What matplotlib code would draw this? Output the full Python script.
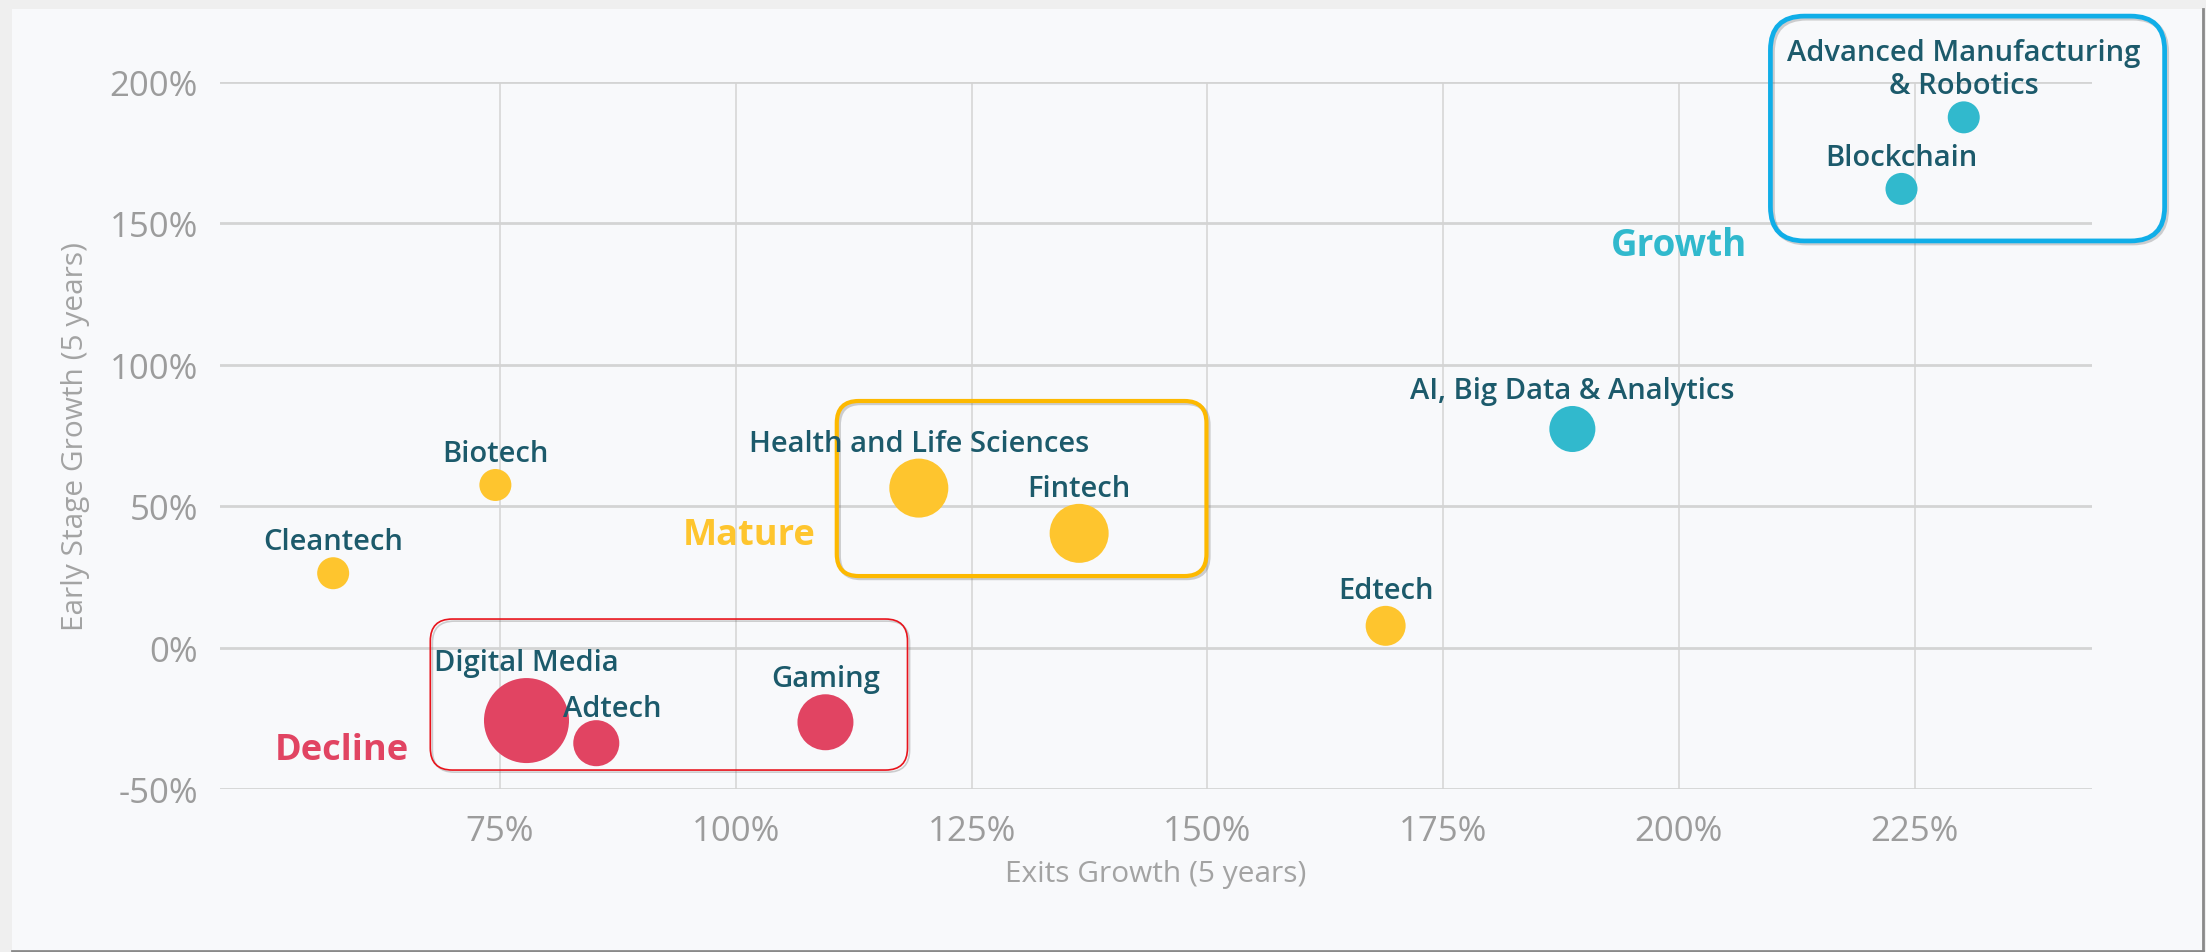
import matplotlib
matplotlib.use("Agg")
import matplotlib.pyplot as plt
import matplotlib.patheffects as pe
from matplotlib.patches import FancyBboxPatch, Rectangle
from matplotlib.lines import Line2D

# data
sectors = ['Cleantech', 'Biotech', 'Health and Life Sciences', 'Fintech', 'Edtech',
           'AI, Big Data & Analytics', 'Blockchain', 'Advanced Manufacturing\n& Robotics',
           'Digital Media', 'Adtech', 'Gaming']
exits_growth = [57.3, 74.5, 119.4, 136.4, 168.9, 188.7, 223.6, 230.2, 77.8, 85.2, 109.5]
early_growth = [26.3, 57.5, 56.4, 40.4, 7.7, 77.3, 162.2, 187.5, -25.8, -33.8, -26.4]
bubble_size = [1.0, 1.0, 3.4, 3.4, 1.56, 2.07, 1.0, 1.0, 7.06, 2.07, 3.06]
stage = ['Mature', 'Mature', 'Mature', 'Mature', 'Mature',
         'Growth', 'Growth', 'Growth', 'Decline', 'Decline', 'Decline']

x_ticks = [75, 100, 125, 150, 175, 200, 225]
y_ticks = [-50, 0, 50, 100, 150, 200]

stage_colors = {'Growth': '#31b9cd', 'Mature': '#fec52e', 'Decline': '#e14462'}
label_color = '#1c5a6b'
tick_color = '#9c9c9c'

W, H, DPI = 2206, 953, 100
fig = plt.figure(figsize=(W / DPI, H / DPI), dpi=DPI, facecolor='#efefef')

# card background
fig.patches.append(Rectangle((12 / W, 2 / H), 2190 / W, 941 / H, transform=fig.transFigure,
                             facecolor='#f8f9fb', edgecolor='none', zorder=-10))
fig.lines.append(Line2D([2203 / W, 2203 / W], [2 / H, 943 / H], transform=fig.transFigure,
                        color='#8a8a8a', lw=2, zorder=-9))
fig.lines.append(Line2D([12 / W, 2203 / W], [1.5 / H, 1.5 / H], transform=fig.transFigure,
                        color='#8a8a8a', lw=2, zorder=-9))

ax_l, ax_r, ax_t, ax_b = 220, 2092, 83, 790
ax = fig.add_axes([ax_l / W, 1 - ax_b / H, (ax_r - ax_l) / W, (ax_b - ax_t) / H])
ax.set_facecolor('#f8f9fb')
ax.set_xlim(45.3, 243.8)
ax.set_ylim(-50, 200)
for s in ax.spines.values():
    s.set_visible(False)

ax.set_xticks(x_ticks)
ax.set_yticks(y_ticks)
ax.set_xticklabels([f'{t}%' for t in x_ticks])
ax.set_yticklabels([f'{t}%' for t in y_ticks])
ax.tick_params(length=0, labelsize=25, labelcolor=tick_color, pad=16)
ax.tick_params(axis='x', pad=18)
for lab in ax.get_xticklabels() + ax.get_yticklabels():
    lab.set_fontfamily('Open Sans')

ax.grid(axis='x', color='#d9d9d9', lw=1.3)
ax.grid(axis='y', color='#d4d4d4', lw=2.0)
ax.set_axisbelow(True)

ax.set_xlabel('Exits Growth (5 years)', fontsize=21.5, color='#a3a3a3', family='Open Sans', labelpad=8)
ax.set_ylabel('Early Stage Growth (5 years)', fontsize=21.5, color='#a3a3a3', family='Open Sans', labelpad=14)

# bubbles
px_per_pt = DPI / 72
base_area = (2 * 16 / px_per_pt) ** 2
colors = [stage_colors[s] for s in stage]
areas = [b * base_area for b in bubble_size]
ax.scatter(exits_growth, early_growth, s=areas, c=colors, edgecolors='none', zorder=3)

# labels above bubbles
label_nudge = {'Adtech': (16, -4)}
for name, x, y, b in zip(sectors, exits_growth, early_growth, bubble_size):
    r_px = 16 * b ** 0.5
    dx, dy = label_nudge.get(name, (0, 0))
    ax.annotate(name, (x, y), xytext=(dx / px_per_pt, (r_px + 8 + dy) / px_per_pt),
                textcoords='offset points', ha='center', va='baseline',
                fontsize=21, fontweight='semibold', family='Open Sans',
                color=label_color, zorder=5, linespacing=1.2)

# stage labels
ax.text(200, 142.4, 'Growth', color=stage_colors['Growth'], fontsize=26.5, fontweight='bold',
        family='Open Sans', ha='center', va='center', zorder=5)
ax.text(101.4, 39.8, 'Mature', color=stage_colors['Mature'], fontsize=26, fontweight='bold',
        family='Open Sans', ha='center', va='center', zorder=5)
ax.text(58.2, -36.2, 'Decline', color=stage_colors['Decline'], fontsize=26, fontweight='bold',
        family='Open Sans', ha='center', va='center', zorder=5)

# highlight boxes (annotation frames)
x_unit_px = (ax_r - ax_l) / (243.8 - 45.3)
y_unit_px = (ax_b - ax_t) / 250
aspect = x_unit_px / y_unit_px
boxes = [((209.7, 143.8), 251.5 - 209.7, 223.3 - 143.8, '#10aee8', 3.4, 34),
         ((110.7, 25.3), 149.9 - 110.7, 87.2 - 25.3, '#fdb900', 3.0, 22),
         ((67.6, -43.3), 118.2 - 67.6, 10.1 + 43.3, '#e8141c', 1.2, 22)]
for (x0, y0), w, h, col, lw, rad in boxes:
    patch = FancyBboxPatch((x0, y0), w, h,
                           boxstyle=f'round,pad=0,rounding_size={rad / x_unit_px}',
                           mutation_aspect=aspect, facecolor='none', edgecolor=col, lw=lw,
                           clip_on=False, zorder=4)
    patch.set_path_effects([pe.SimpleLineShadow(offset=(1.5, -1.5), shadow_color='#666666', alpha=0.3),
                            pe.Normal()])
    ax.add_patch(patch)

fig.savefig('out.png', dpi=DPI, facecolor=fig.get_facecolor())
